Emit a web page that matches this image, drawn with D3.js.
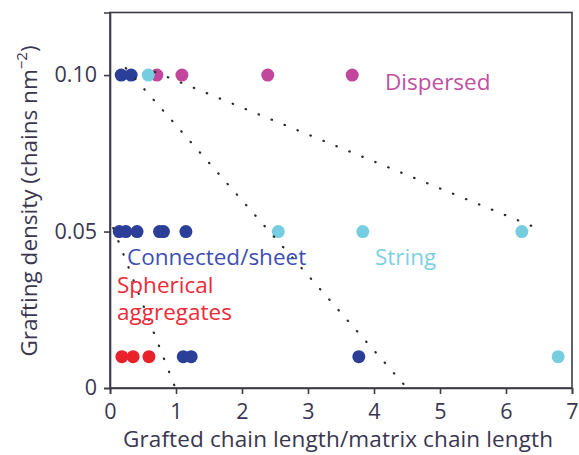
<!DOCTYPE html>
<html>
<head>
<meta charset="utf-8">
<script src="https://cdn.jsdelivr.net/npm/d3@7"></script>
<style>
  html, body { margin: 0; padding: 0; background: #fff; }
  svg { display: block; }
  text { font-family: "Open Sans", sans-serif; }
</style>
</head>
<body>
<svg id="chart" width="579" height="455"></svg>
<script>
// Morphology classes: grafted/matrix chain-length ratio vs grafting density
const dispersedX = [0.71, 1.09, 2.39, 3.67];
const dispersedY = [0.10, 0.10, 0.10, 0.10];

const stringX = [0.58, 2.55, 3.83, 6.24, 6.79];
const stringY = [0.10, 0.05, 0.05, 0.05, 0.01];

const connectedX = [0.17, 0.32, 0.14, 0.24, 0.41, 0.75, 0.81, 1.15, 1.11, 1.23, 3.77];
const connectedY = [0.10, 0.10, 0.05, 0.05, 0.05, 0.05, 0.05, 0.05, 0.01, 0.01, 0.01];

const sphericalX = [0.18, 0.35, 0.59];
const sphericalY = [0.01, 0.01, 0.01];

// Dotted boundaries between regimes: [x1, y1, x2, y2]
const boundaryA = [0.68, 0.1010, 6.47, 0.0511];
const boundaryB = [0.24, 0.1022, 4.50, 0.0];
const boundaryC = [0.05, 0.0511, 0.99, 0.0];

const xTicks = [0, 1, 2, 3, 4, 5, 6, 7];
const yTicks = [0, 0.05, 0.10];
const yTickLabels = ["0", "0.05", "0.10"];

const colors = {
  dispersed: "#c2469c",
  string: "#76cde0",
  connected: "#2c3f98",
  spherical: "#e8212b"
};

const svg = d3.select("#chart");
const margin = { left: 110, top: 12.5, right: 7, bottom: 67 };
const W = 579, H = 455;

const x = d3.scaleLinear().domain([0, 7]).range([margin.left, W - margin.right]);
const y = d3.scaleLinear().domain([0, 0.12]).range([H - margin.bottom, margin.top]);

const axisColor = "#3c3a44";
const textColor = "#3a3650";
const tickFont = "21.5px";
const labelSize = "22.5px";

// frame (top and right sides)
svg.append("rect")
  .attr("x", x(0)).attr("y", y(0.12))
  .attr("width", x(7) - x(0)).attr("height", y(0) - y(0.12))
  .attr("fill", "none").attr("stroke", axisColor).attr("stroke-width", 1.6);

// x axis
const xAxis = svg.append("g")
  .attr("transform", `translate(0,${y(0)})`)
  .call(d3.axisBottom(x).tickValues(xTicks).tickFormat(d3.format("d")).tickSize(6).tickPadding(10));
// y axis
const yAxis = svg.append("g")
  .attr("transform", `translate(${x(0)},0)`)
  .call(d3.axisLeft(y).tickValues(yTicks).tickFormat((d, i) => yTickLabels[i]).tickSize(6).tickPadding(7));

[xAxis, yAxis].forEach(g => {
  g.select(".domain").attr("stroke", axisColor).attr("stroke-width", 1.6);
  g.selectAll(".tick line").attr("stroke", axisColor).attr("stroke-width", 1.6);
  g.selectAll(".tick text")
    .attr("fill", textColor)
    .style("font-family", "'Open Sans', sans-serif")
    .style("font-size", tickFont);
});

// axis titles
svg.append("text")
  .attr("x", 123).attr("y", 447)
  .attr("fill", textColor)
  .attr("textLength", 430)
  .style("font-size", labelSize)
  .text("Grafted chain length/matrix chain length");

const yTitle = svg.append("text")
  .attr("transform", `translate(37,201) rotate(-90)`)
  .attr("text-anchor", "middle")
  .attr("fill", textColor)
  .style("font-size", labelSize);
yTitle.append("tspan").text("Grafting density (chains nm");
yTitle.append("tspan").attr("baseline-shift", "super").style("font-size", "15px").text("\u22122");
yTitle.append("tspan").text(")");

// scatter points
function drawSeries(xs, ys, color) {
  svg.append("g").selectAll("circle")
    .data(xs.map((v, i) => [v, ys[i]]))
    .join("circle")
    .attr("cx", d => x(d[0]))
    .attr("cy", d => y(d[1]))
    .attr("r", 6.5)
    .attr("fill", color);
}
drawSeries(dispersedX, dispersedY, colors.dispersed);
drawSeries(stringX, stringY, colors.string);
drawSeries(connectedX, connectedY, colors.connected);
drawSeries(sphericalX, sphericalY, colors.spherical);

// dotted regime boundaries
[boundaryA, boundaryB, boundaryC].forEach(b => {
  svg.append("line")
    .attr("x1", x(b[0])).attr("y1", y(b[1]))
    .attr("x2", x(b[2])).attr("y2", y(b[3]))
    .attr("stroke", "#2a2a2a")
    .attr("stroke-width", 2.2)
    .attr("stroke-linecap", "round")
    .attr("stroke-dasharray", "0.5,13.5");
});

// regime labels
svg.append("text").attr("x", 385).attr("y", 90)
  .attr("fill", "#c24fa0").style("font-size", labelSize).text("Dispersed");
svg.append("text").attr("x", 127).attr("y", 265)
  .attr("fill", "#3d4fb3").style("font-size", labelSize).text("Connected/sheet");
svg.append("text").attr("x", 375).attr("y", 265)
  .attr("fill", "#7ccfe3").style("font-size", labelSize).text("String");
svg.append("text").attr("x", 117).attr("y", 293)
  .attr("fill", "#ee2a36").style("font-size", labelSize).text("Spherical");
svg.append("text").attr("x", 117).attr("y", 320)
  .attr("fill", "#ee2a36").style("font-size", labelSize).text("aggregates");
</script>
</body>
</html>
